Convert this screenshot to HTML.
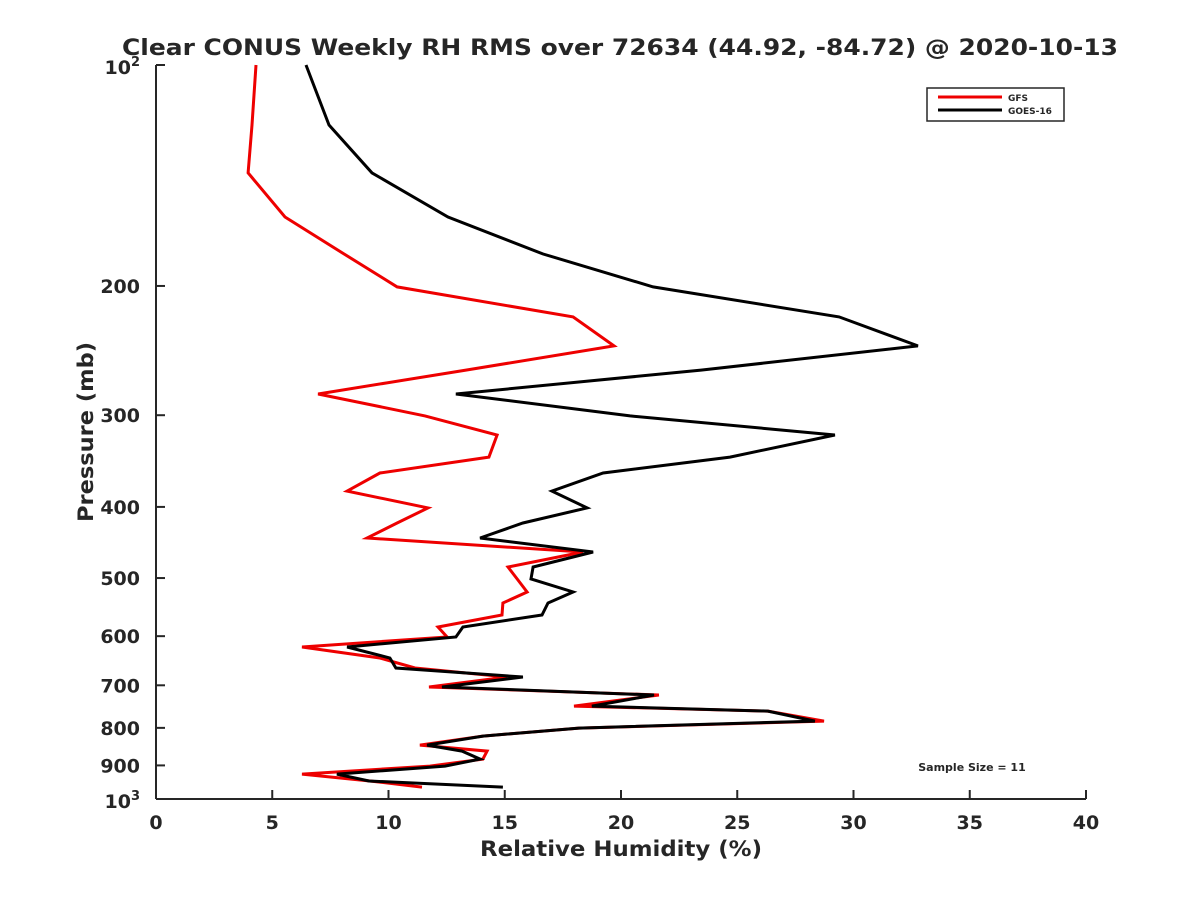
<!DOCTYPE html>
<html><head><meta charset="utf-8"><style>
body{margin:0;background:#fff;}
svg text{font-family:"DejaVu Sans","Liberation Sans",sans-serif;font-weight:bold;fill:#262626;}
</style></head><body>
<svg id="chart" width="1200" height="900" xmlns="http://www.w3.org/2000/svg">
<rect width="1200" height="900" fill="#fff"/>
<text x="122" y="55" font-size="22" textLength="996" lengthAdjust="spacingAndGlyphs" fill="#000">Clear CONUS Weekly RH RMS over 72634 (44.92, -84.72) @ 2020-10-13</text>
<g id="axes"></g>
<g id="series"></g>
<g>
<rect x="927" y="88" width="137" height="33" fill="#fff" stroke="#262626" stroke-width="1.5"/>
<line x1="938" y1="97" x2="1002" y2="97" stroke="#e00" stroke-width="3"/>
<text x="1008" y="101" font-size="9">GFS</text>
<line x1="938" y1="110" x2="1002" y2="110" stroke="#000" stroke-width="3"/>
<text x="1008" y="114" font-size="9">GOES-16</text>
</g>
<text x="972" y="771" font-size="11" text-anchor="middle" fill="#000">Sample Size = 11</text>
<text x="480" y="856" font-size="21" textLength="282" lengthAdjust="spacingAndGlyphs">Relative Humidity (%)</text>
<text transform="translate(93,522) rotate(-90)" font-size="21" textLength="180" lengthAdjust="spacingAndGlyphs">Pressure (mb)</text>
</svg>
<script>
const pressures=[100,120.7,140.3,161.1,180.9,200.6,220.4,241.4,260.4,280.7,300.7,319.2,342.1,359.6,380.6,401.3,420.7,441,460.8,482.9,501.4,522.4,540.8,561.5,583,601.6,620.8,642.6,663,682.1,703.8,721.7,747.1,758.9,783.1,800.6,821,844.5,860.6,882.4,901.9,924.8,945.2,963.3];
const goesValues=[6.45,7.44,9.29,12.56,16.65,21.38,29.38,32.77,23.44,12.90,20.39,29.2,24.69,19.23,17.03,18.54,15.78,13.94,18.80,16.22,16.13,17.94,16.86,16.60,13.20,12.90,8.22,10.06,10.32,15.78,12.30,21.42,18.75,26.32,28.34,18.19,14.06,11.66,13.16,13.94,12.43,7.78,9.16,14.92];
const gfsValues=[4.30,4.13,3.96,5.55,8.09,10.37,17.94,19.70,13.33,6.97,11.57,14.67,14.32,9.63,8.22,11.70,10.37,9.08,18.37,15.14,15.53,15.96,14.92,14.88,12.13,12.52,6.28,9.63,11.14,15.10,11.74,21.63,17.98,26.32,28.73,18.19,14.06,11.35,14.24,14.06,11.78,6.28,9.20,11.44];
const xTicks=[0,5,10,15,20,25,30,35,40];
const yTicks=[200,300,400,500,600,700,800,900];
const NS="http://www.w3.org/2000/svg";
const X0=156,X1=1086,Y0=65,Y1=799,XMAX=40;
const xs=v=>X0+(X1-X0)*v/XMAX;
const ys=p=>Y0+(Y1-Y0)*(Math.log10(p)-2);
function mk(tag,attrs,parent){const e=document.createElementNS(NS,tag);for(const k in attrs)e.setAttribute(k,attrs[k]);parent.appendChild(e);return e;}
const ax=document.getElementById('axes');
let l=mk('line',{x1:X0,y1:Y0,x2:X0,y2:Y1,stroke:'#262626','stroke-width':2},ax);


l=mk('line',{x1:X0,y1:Y1,x2:X1,y2:Y1,stroke:'#262626','stroke-width':2},ax);


xTicks.forEach(v=>{
 const t=mk('line',{x1:xs(v),y1:Y1,x2:xs(v),y2:Y1-9,stroke:'#262626','stroke-width':2},ax);
 
 
 const tx=mk('text',{x:xs(v),y:Y1+30,'font-size':19,'text-anchor':'middle'},ax);tx.textContent=v;
 
 
});
[100,1000].concat(yTicks).forEach(p=>{
 const t=mk('line',{x1:X0,y1:ys(p),x2:X0+9,y2:ys(p),stroke:'#262626','stroke-width':2},ax);
 
 
});
yTicks.forEach(p=>{
 const tx=mk('text',{x:X0-16,y:ys(p)+7,'font-size':19,'text-anchor':'end'},ax);tx.textContent=p;
 
 
});
[[100,'2'],[1000,'3']].forEach(([p,e])=>{
 const tx=mk('text',{x:X0-16,y:ys(p)+9,'font-size':19,'text-anchor':'end'},ax);
 
 
 tx.appendChild(document.createTextNode('10'));
 const s=mk('tspan',{dy:-8,'font-size':13},tx);s.textContent=e;
});
const sg=document.getElementById('series');
function draw(vals,color,name){
 const pts=vals.map((v,i)=>xs(v).toFixed(1)+','+ys(pressures[i]).toFixed(1)).join(' ');
 const pl=mk('polyline',{points:pts,fill:'none',stroke:color,'stroke-width':3,'stroke-linejoin':'miter'},sg);
 
 
}
draw(gfsValues,'#e00','gfs-line');
draw(goesValues,'#000','goes16-line');
</script>
</body></html>
